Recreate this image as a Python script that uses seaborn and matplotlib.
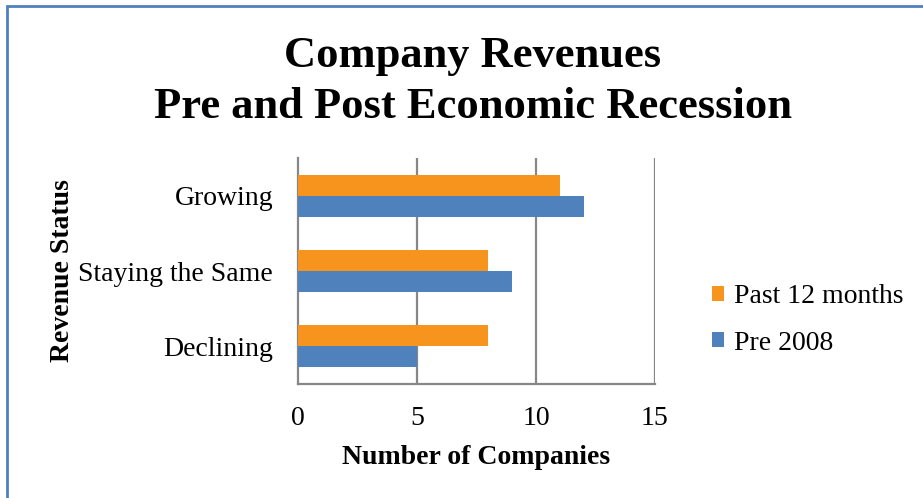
import matplotlib
matplotlib.use("Agg")
import matplotlib.pyplot as plt
import seaborn as sns
import pandas as pd
from matplotlib.patches import Rectangle

categories = ["Growing", "Staying the Same", "Declining"]
series_names = ["Past 12 months", "Pre 2008"]
past_12_months = [11, 8, 8]
pre_2008 = [12, 9, 5]
x_ticks = [0, 5, 10, 15]

df = pd.DataFrame({
    "Revenue Status": categories * 2,
    "Number of Companies": past_12_months + pre_2008,
    "Series": [series_names[0]] * 3 + [series_names[1]] * 3,
})

sns.set_theme(style="white")
plt.rcParams["font.family"] = ["Liberation Serif", "DejaVu Serif"]
for k in ["text.color", "axes.labelcolor", "xtick.color", "ytick.color"]:
    plt.rcParams[k] = "black"

fig = plt.figure(figsize=(9.23, 4.98), dpi=100)
ax = fig.add_axes([0.3229, 0.2289, 0.7096 - 0.3229, 0.6827 - 0.2289])

palette = {"Past 12 months": "#F7941E", "Pre 2008": "#4F81BD"}
sns.barplot(data=df, y="Revenue Status", x="Number of Companies", hue="Series",
            hue_order=series_names, order=categories, palette=palette,
            orient="h", width=0.56, ax=ax, saturation=1, legend=True, zorder=3,
            linewidth=0)

ax.set_xlim(0, 15)
ax.set_ylim(2.5, -0.5)
ax.set_xticks(x_ticks)
ax.set_xticklabels([str(t) for t in x_ticks], fontsize=20)
ax.set_yticks([0, 1, 2])
ax.set_yticklabels(categories, fontsize=20)
ax.tick_params(axis="y", length=0, pad=18)
ax.tick_params(axis="x", length=6, width=1.5, color="#878787", direction="out", pad=10)
ax.set_yticks([-0.5, 0.5, 1.5, 2.5], minor=True)
ax.tick_params(axis="y", which="minor", length=6, width=1.5, color="#878787", direction="out")

for xv in x_ticks[1:]:
    ax.axvline(xv, color="#878787", lw=1.6, zorder=1)

for side in ["top", "right"]:
    ax.spines[side].set_visible(False)
for side in ["left", "bottom"]:
    ax.spines[side].set_color("#878787")
    ax.spines[side].set_linewidth(1.6)

ax.set_xlabel("Number of Companies", fontsize=20, fontweight="bold", labelpad=10)
ax.set_ylabel("Revenue Status", fontsize=20, fontweight="bold", labelpad=2.5)

fig.text(0.512, 0.836, "Company Revenues\nPre and Post Economic Recession",
         ha="center", va="center", fontsize=32, fontweight="bold", linespacing=1.35)

leg = ax.legend(loc="center left", bbox_to_anchor=(0.771, 0.3575),
                bbox_transform=fig.transFigure, frameon=False,
                fontsize=20, handlelength=0.45, handleheight=0.45, handletextpad=0.35,
                labelspacing=0.78, borderpad=0, borderaxespad=0)

fig.patches.append(Rectangle((0.008, -0.05), 1.2, 1.038, transform=fig.transFigure,
                             fill=False, edgecolor="#4F81BD", lw=2))

fig.savefig("out.png", dpi=100)
